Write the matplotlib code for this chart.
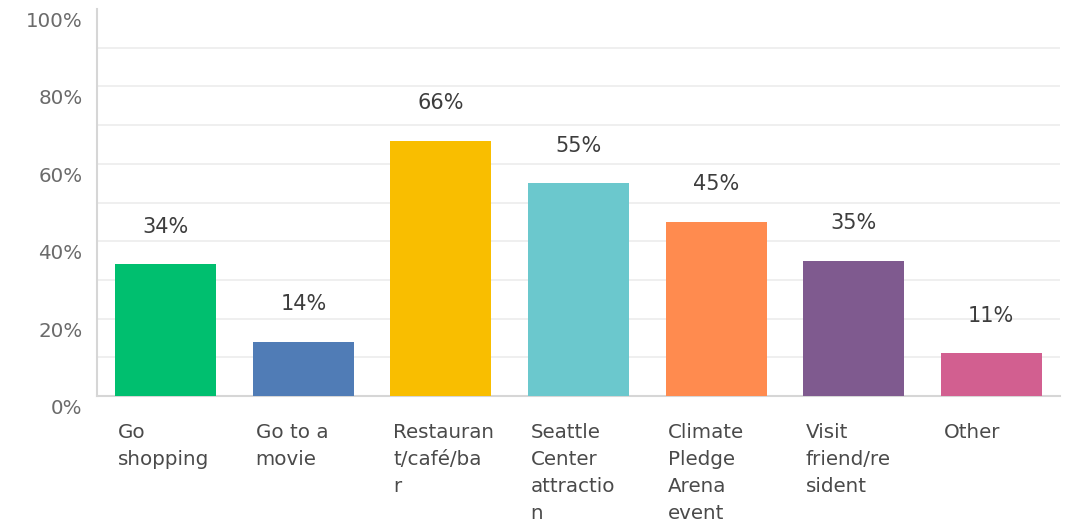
import matplotlib
matplotlib.use("Agg")
import matplotlib.pyplot as plt
import matplotlib.transforms as mtransforms

categories = ["Go\nshopping", "Go to a\nmovie", "Restauran\nt/café/ba\nr",
              "Seattle\nCenter\nattractio\nn", "Climate\nPledge\nArena\nevent",
              "Visit\nfriend/re\nsident", "Other"]
values = [34, 14, 66, 55, 45, 35, 11]
value_labels = ["34%", "14%", "66%", "55%", "45%", "35%", "11%"]
colors = ["#00BF6F", "#507CB6", "#F9BE00", "#6BC8CD", "#FF8B4F", "#7F5A8F", "#D25F90"]
yticks = [0, 20, 40, 60, 80, 100]
ytick_labels = ["0%", "20%", "40%", "60%", "80%", "100%"]

plt.rcParams['font.family'] = ['DejaVu Sans']

W, H = 1068, 524
fig = plt.figure(figsize=(W / 100, H / 100), dpi=100)
ax = fig.add_axes([97 / W, 1 - 396 / H, (1060 - 97) / W, (396 - 9) / H])

x = list(range(len(categories)))
bw = 0.735
bars = ax.bar(x, values, width=bw, color=colors, zorder=3)
ax.set_xlim(-0.5, len(categories) - 0.5)
ax.set_ylim(0, 100)

# gridlines
for g in range(10, 100, 10):
    ax.axhline(g, color="#ececec", lw=1.2, zorder=1)

for s in ["top", "right"]:
    ax.spines[s].set_visible(False)
ax.spines["left"].set_color("#d6d6d6")
ax.spines["left"].set_linewidth(1.5)
ax.spines["bottom"].set_color("#d6d6d6")
ax.spines["bottom"].set_linewidth(1.5)

ax.set_yticks(yticks)
ax.set_yticklabels(ytick_labels, fontsize=14.3, color="#6b6b6b")
ax.tick_params(axis="y", length=0, pad=10.5)
offset = mtransforms.ScaledTranslation(0, -10.5 / 100, fig.dpi_scale_trans)
for lab in ax.get_yticklabels():
    lab.set_transform(lab.get_transform() + offset)

ax.set_xticks([])
for i, (cat, v, vl) in enumerate(zip(categories, values, value_labels)):
    ax.annotate(vl, xy=(i, v), xytext=(0, 27), textcoords="offset points",
                ha="center", va="center", fontsize=15, color="#3d3d3d")
    ax.annotate(cat, xy=(i - bw / 2, 0), xytext=(2, -19.5), textcoords="offset points",
                ha="left", va="top", fontsize=14.3, color="#4a4a4a", linespacing=1.53,
                annotation_clip=False)

fig.savefig("out.png", dpi=100, facecolor="white")
